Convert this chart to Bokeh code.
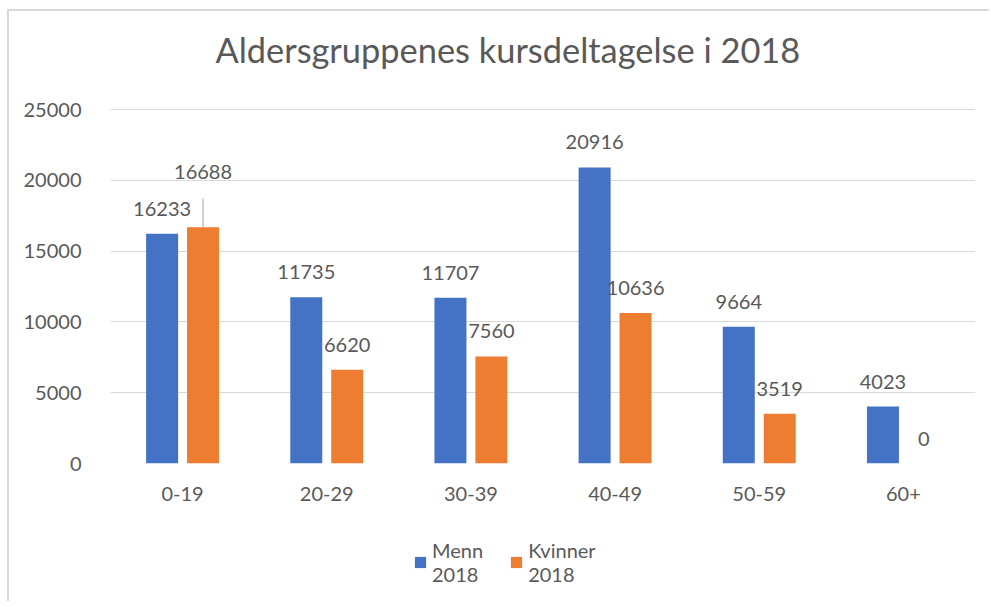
from bokeh.plotting import figure
from bokeh.layouts import column
from bokeh.models import (FactorRange, ColumnDataSource, Legend, LegendItem, Range1d,
                          FixedTicker, Label)
from bokeh.transform import dodge
from bokeh.core.properties import value
from bokeh.embed import file_html
from bokeh.resources import INLINE

# ---- data ----
categories = ["0-19", "20-29", "30-39", "40-49", "50-59", "60+"]
menn = [16233, 11735, 11707, 20916, 9664, 4023]
kvinner = [16688, 6620, 7560, 10636, 3519, 0]
series_labels = ["Menn\n2018", "Kvinner\n2018"]
y_ticks = [0, 5000, 10000, 15000, 20000, 25000]
title_text = "Aldersgruppenes kursdeltagelse i 2018"

# ---- style ----
BLUE = "#4472C4"
ORANGE = "#ED7D31"
TXT = "#595959"
GRID = "#D9D9D9"
FONT = "Lato"
FS = "20px"
Y_MAX = 25000
FRAME_H = 354  # px

src = ColumnDataSource(dict(
    cat=categories,
    menn=menn,
    kvinner=kvinner,
    menn_lbl=[str(v) for v in menn],
    kv_lbl=[str(v) for v in kvinner],
))

W = 980
H0 = 80   # title strip
H1 = 420  # chart
H2 = 90   # legend strip
BL, BR = 101, 14          # chart side borders (strips' frames align to these)
FRAME_W = W - BL - BR


def strip(height):
    f = figure(width=W, height=height, output_backend="svg", toolbar_location=None,
               x_range=Range1d(0, FRAME_W), y_range=Range1d(0, height),
               min_border_left=0, min_border_right=0, min_border_top=0,
               min_border_bottom=0, x_axis_location=None, y_axis_location=None)
    f.outline_line_color = None
    f.grid.visible = False
    return f


# ---- title strip ----
p0 = strip(H0)
p0.add_layout(Label(x=105, y=42, text=title_text, text_align="left",
                    text_baseline="middle", text_font=FONT, text_font_size="34.4px",
                    text_color=TXT))

# ---- chart ----
p = figure(x_range=FactorRange(*categories), y_range=Range1d(0, Y_MAX * 1.003),
           width=W, height=H1, output_backend="svg", toolbar_location=None,
           min_border_left=BL, min_border_right=BR, min_border_top=17,
           min_border_bottom=H1 - 17 - FRAME_H - 1)
p.x_range.range_padding = 0
p.outline_line_color = None
p.background_fill_color = "white"
p.border_fill_color = "white"

off = 0.142
bw = 0.222
r1 = p.vbar(x=dodge("cat", -off, range=p.x_range), top="menn", width=bw, source=src,
            fill_color=BLUE, line_color=None)
r2 = p.vbar(x=dodge("cat", off, range=p.x_range), top="kvinner", width=bw, source=src,
            fill_color=ORANGE, line_color=None)

# value labels
lbl_gap = 25
p.text(x=dodge("cat", -off, range=p.x_range), y="menn", text="menn_lbl", source=src,
       y_offset=-lbl_gap, text_align="center", text_baseline="middle",
       text_font=value(FONT), text_font_size=FS, text_color=TXT)

# orange labels: first one lifted with a leader line (as in the reference)
lift = 30
kv_off = [-(lbl_gap + lift) if i == 0 else -lbl_gap for i in range(len(categories))]
src.data["kv_off"] = kv_off
p.text(x=dodge("cat", off, range=p.x_range), y="kvinner", text="kv_lbl", source=src,
       y_offset="kv_off", text_align="center", text_baseline="middle",
       text_font=value(FONT), text_font_size=FS, text_color=TXT)

px_per_unit = FRAME_H / Y_MAX
leader_src = ColumnDataSource(dict(
    cat=[categories[0]],
    y0=[kvinner[0]],
    y1=[kvinner[0] + 29 / px_per_unit],
))
p.segment(x0=dodge("cat", off, range=p.x_range), x1=dodge("cat", off, range=p.x_range),
          y0="y0", y1="y1", source=leader_src, line_color="#A6A6A6", line_width=1)

# axes
p.yaxis.ticker = FixedTicker(ticks=y_ticks)
p.yaxis.axis_line_color = None
p.yaxis.major_tick_line_color = None
p.yaxis.minor_tick_line_color = None
p.yaxis.major_label_standoff = 23
p.yaxis.major_label_text_font = FONT
p.yaxis.major_label_text_font_size = FS
p.yaxis.major_label_text_color = TXT

p.xaxis.axis_line_color = None
p.xaxis.major_tick_line_color = None
p.xaxis.minor_tick_line_color = None
p.xaxis.major_label_standoff = 17
p.xaxis.major_label_text_font = FONT
p.xaxis.major_label_text_font_size = FS
p.xaxis.major_label_text_color = TXT

p.xgrid.grid_line_color = None
p.ygrid.grid_line_color = GRID
p.ygrid.ticker = FixedTicker(ticks=y_ticks)

# ---- legend strip (dummy renderers sit outside its visible range) ----
p2 = strip(H2)
l1 = p2.vbar(x=[-50], top=[-50], bottom=[-60], width=1, fill_color=BLUE, line_color=None)
l2 = p2.vbar(x=[-50], top=[-50], bottom=[-60], width=1, fill_color=ORANGE, line_color=None)
legend = Legend(items=[LegendItem(label=series_labels[0], renderers=[l1]),
                       LegendItem(label=series_labels[1], renderers=[l2])],
                orientation="horizontal", location=(303, 15),
                label_text_font=FONT, label_text_font_size=FS, label_text_color=TXT,
                glyph_width=14, glyph_height=14, spacing=26, padding=6, margin=0,
                border_line_color=None, background_fill_alpha=0)
p2.add_layout(legend, "center")

layout = column(p0, p, p2, spacing=0,
                styles={"border-left": "2px solid #D9D9D9",
                        "border-top": "2px solid #D9D9D9",
                        "margin-left": "7px", "margin-top": "9px"})

open("out.html", "w").write(file_html(layout, INLINE))
